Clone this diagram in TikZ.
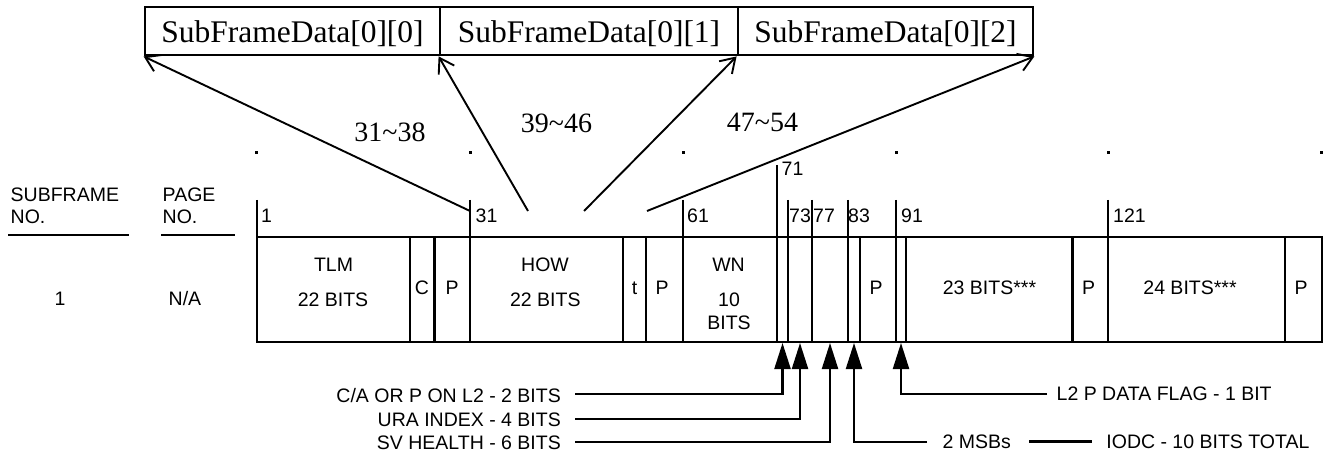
\documentclass[tikz,border=0pt]{standalone}
\usepackage{fontspec}
\setmainfont{Liberation Serif}
\newfontfamily\arialf{Liberation Sans}
\usetikzlibrary{arrows.meta}
\begin{document}
\begin{tikzpicture}[x=1bp,y=-1bp,
 frame/.style={line width=2.8bp},
 lab/.style={font=\arialf\fontsize{19.5bp}{22bp}\selectfont, inner sep=0pt},
 ser/.style={font=\fontsize{28bp}{30bp}\selectfont, inner sep=0pt},
 topbox/.style={draw, line width=2.8bp, minimum height=48bp, inner sep=0pt,
   font=\fontsize{31.5bp}{34bp}\selectfont, text height=26bp, text depth=2bp},
 openarrow/.style={line width=1.9bp, -{Straight Barb[length=14bp,width=18bp]}},
 barrow/.style={line width=2.2bp, -{Triangle[length=26bp,width=16bp]}},
 conn/.style={line width=2.2bp}
]
\useasboundingbox (0,0) rectangle (1327,456);

% top boxes
\node[topbox, minimum width=295bp] (s0) at (292.5,31) {SubFrameData[0][0]};
\node[topbox, minimum width=298bp] (s1) at (589,31) {SubFrameData[0][1]};
\node[topbox, minimum width=295bp] (s2) at (885.5,31) {SubFrameData[0][2]};

% range labels
\node[ser, anchor=base] (r1) at (390,141.5) {31\textasciitilde 38};
\node[ser, anchor=base] (r2) at (556.5,133) {39\textasciitilde 46};
\node[ser, anchor=base] (r3) at (762.5,131.5) {47\textasciitilde 54};

% arrows up to boxes
\coordinate (f1) at (470,211);
\coordinate (f2) at (528,211);
\coordinate (f3) at (584,211);
\coordinate (f4) at (647,211);
\draw[openarrow] (f1) -- (s0.south west);
\draw[openarrow] (f2) -- (s1.south west);
\draw[openarrow] (f3) -- (s2.south west);
\draw[openarrow] (f4) -- (s2.south east);

% dots
\foreach \x in {256,470,683,896,1108,1321}
  \fill (\x-1.5,151.5) rectangle ++(3,3);

% left headers
\node[lab, anchor=base west] (sf1) at (10.5,201.7) {SUBFRAME};
\node[lab, anchor=base west] (sf2) at (10.5,224) {NO.};
\node[lab, anchor=base west] (pg1) at (162.5,201.7) {PAGE};
\node[lab, anchor=base west] (pg2) at (162.5,224) {NO.};
\draw[frame] (8,235) -- (129,235);
\draw[frame] (161,235) -- (235,235);
\node[lab, anchor=base] (sfv) at (60,306) {1};
\node[lab, anchor=base west] (pgv) at (168.5,306) {N/A};

% frame
\draw[frame] (257,237) rectangle (1322,342);
\foreach \x in {410,434.5,623,646,860,906,1072.5,1285}
  \draw[frame] (\x,237) -- (\x,342);
\foreach \x in {257,470,683,788,812,848,896,1108}
  \draw[frame] (\x,200) -- (\x,342);
\draw[frame] (777,165) -- (777,342);

% bit numbers
\node[lab, anchor=base west] (n1) at (261,222.7) {1};
\node[lab, anchor=base west] (n31) at (475.5,222.7) {31};
\node[lab, anchor=base west] (n61) at (687,222.7) {61};
\node[lab, anchor=base west] (n71) at (781.5,176) {71};
\node[lab, anchor=base west] (n73) at (789,222.7) {73};
\node[lab, anchor=base west] (n77) at (813,222.7) {77};
\node[lab, anchor=base west] (n83) at (848,222.7) {83};
\node[lab, anchor=base west] (n91) at (901,222.7) {91};
\node[lab, anchor=base west] (n121) at (1113,222.7) {121};

% field contents
\node[lab, anchor=base] (tlm) at (333.5,271.7) {TLM};
\node[lab, anchor=base] (tlmb) at (333,306.7) {22 BITS};
\node[lab, anchor=base] (fc) at (422,295) {C};
\node[lab, anchor=base] (fp1) at (452,295) {P};
\node[lab, anchor=base] (how) at (545,271.7) {HOW};
\node[lab, anchor=base] (howb) at (545.3,306.7) {22 BITS};
\node[lab, anchor=base] (ft) at (634.5,295) {t};
\node[lab, anchor=base] (fp2) at (662,295) {P};
\node[lab, anchor=base] (wn) at (728.5,272) {WN};
\node[lab, anchor=base] (wn10) at (729,306.7) {10};
\node[lab, anchor=base] (wnb) at (729,329.3) {BITS};
\node[lab, anchor=base] (fp3) at (876,295) {P};
\node[lab, anchor=base] (b23) at (989.5,295) {23 BITS***};
\node[lab, anchor=base] (fp4) at (1088.5,295) {P};
\node[lab, anchor=base] (b24) at (1190,295) {24 BITS***};
\node[lab, anchor=base] (fp5) at (1301,295) {P};

% bottom callouts
\coordinate (a71) at (782.5,343);
\coordinate (a73) at (800,343);
\coordinate (a77) at (830,343);
\coordinate (a83) at (854,343);
\coordinate (a91) at (901,343);
\coordinate (caL) at (575,394);
\coordinate (uraL) at (575,419);
\coordinate (svL) at (575,442);
\coordinate (msbR) at (927,442);
\coordinate (l2R) at (1047,394);
\node[lab, anchor=base east] (ca) at (561,402.7) {C/A OR P ON L2 - 2 BITS};
\node[lab, anchor=base east] (ura) at (561,426) {URA INDEX - 4 BITS};
\node[lab, anchor=base east] (sv) at (561,449) {SV HEALTH - 6 BITS};
\node[lab, anchor=base west] (l2) at (1056.5,400.5) {L2 P DATA FLAG - 1 BIT};
\node[lab, anchor=base west] (msb) at (942.5,448.3) {2 MSBs};
\node[lab, anchor=base west] (iodc) at (1106.2,448.3) {IODC - 10 BITS TOTAL};
\draw[barrow] (caL) -| (a71);
\draw[barrow] (uraL) -| (a73);
\draw[barrow] (svL) -| (a77);
\draw[barrow] (msbR) -| (a83);
\draw[barrow] (l2R) -| (a91);
\draw[conn] ([xshift=18bp]msb.east) -- ([xshift=-14bp]iodc.west);
\end{tikzpicture}
\end{document}
